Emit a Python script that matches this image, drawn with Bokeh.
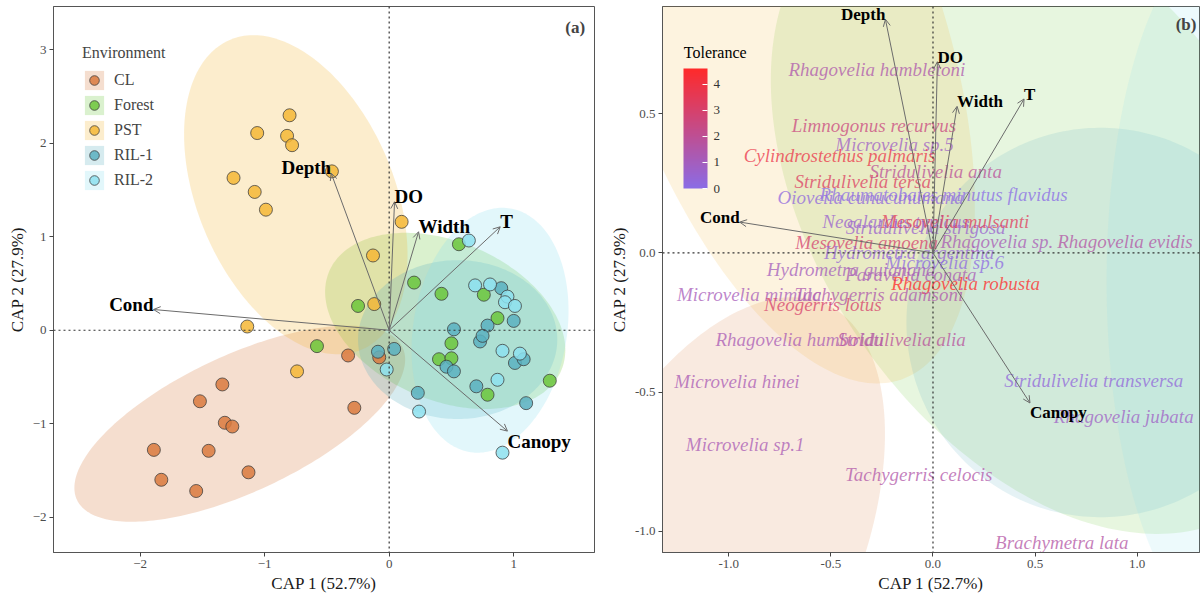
import numpy as np
from bokeh.plotting import figure
from bokeh.layouts import row
from bokeh.models import (ColumnDataSource, Span, Arrow, OpenHead, Label, Legend, LegendItem,
                          LinearColorMapper, ColorBar, FixedTicker, PrintfTickFormatter, Range1d)
from bokeh.transform import linear_cmap
from bokeh.core.properties import value
from bokeh.embed import file_html
from bokeh.resources import INLINE

SERIF = "Liberation Serif"

# ---------------- Panel (a): site scores ----------------
groups = ["CL", "Forest", "PST", "RIL-1", "RIL-2"]
group_colors = ["#D97A3E", "#6CC63B", "#F4B736", "#5BB0BF", "#8DE0EE"]

cl_x = [-1.34, -1.52, -1.32, -1.26, -1.89, -1.45, -1.83, -1.55, -1.13, -0.33, -0.28, -0.08]
cl_y = [-0.58, -0.76, -0.99, -1.03, -1.28, -1.29, -1.60, -1.72, -1.52, -0.27, -0.83, -0.29]
forest_x = [0.56, 0.20, 0.42, 0.76, -0.25, 0.87, -0.58, 0.50, 0.40, 0.50, 0.79, 1.29]
forest_y = [0.92, 0.51, 0.39, 0.38, 0.26, 0.13, -0.17, -0.14, -0.31, -0.30, -0.69, -0.54]
pst_x = [-0.80, -1.06, -0.82, -0.78, -1.25, -1.08, -0.99, -0.46, 0.10, -0.13, -0.12, -1.14, -0.74]
pst_y = [2.30, 2.11, 2.08, 1.98, 1.63, 1.48, 1.29, 1.70, 1.16, 0.80, 0.28, 0.04, -0.44]
ril1_x = [0.90, 0.79, 1.00, 0.52, 0.73, 0.75, 0.04, -0.09, 1.01, 1.08, 0.46, 0.52, 0.70, 0.23, 1.10]
ril1_y = [0.45, 0.05, 0.10, 0.01, -0.12, -0.06, -0.20, -0.23, -0.35, -0.31, -0.39, -0.44, -0.60, -0.67, -0.78]
ril2_x = [0.64, 0.69, 0.81, 0.95, 0.93, 1.01, -0.02, 0.91, 1.05, 0.87, 0.24, 0.91]
ril2_y = [0.96, 0.48, 0.49, 0.36, 0.30, 0.26, -0.42, -0.22, -0.25, -0.53, -0.87, -1.31]

# group ellipses (centre, semi-axes, rotation in degrees), panel a
ell_a_cx = [-1.20, 0.45, -0.75, 0.55, 0.81]
ell_a_cy = [-1.00, 0.10, 1.45, -0.10, 0.00]
ell_a_r1 = [1.55, 1.10, 1.75, 0.85, 1.315]
ell_a_r2 = [0.68, 0.78, 0.81, 0.80, 0.62]
ell_a_ang = [35, -43, 104.4, 90, 84.4]

# group ellipses, panel b
ell_b_cx = [-1.10, 0.55, -0.75, 0.82, 1.45]
ell_b_cy = [-1.10, 0.15, 0.80, -0.25, -0.10]
ell_b_r1 = [1.10, 1.50, 1.40, 0.95, 1.25]
ell_b_r2 = [0.65, 0.95, 0.75, 0.70, 0.60]
ell_b_ang = [50, -35, 120, 0, 90]

# environmental vectors
env_names = ["Depth", "DO", "Width", "T", "Cond", "Canopy"]
env_x = [-0.466, 0.043, 0.236, 0.892, -1.893, 0.950]
env_y = [1.680, 1.375, 1.054, 1.107, 0.222, -1.079]
env_scale_b = 0.5

# ---------------- Panel (b): species scores ----------------
sp_names = ["Rhagovelia hambletoni", "Limnogonus recurvus", "Microvelia sp.5",
            "Cylindrostethus palmaris", "Stridulivelia anta", "Stridulivelia tersa",
            "Rhaumatobates minutus flavidus", "Oiovelia cunucunumana", "Neoalardus typicus",
            "Stridulivelia strigosa", "Mesovelia mulsanti", "Mesovelia amoena",
            "Hydrometra argentina", "Rhagovelia sp.", "Rhagovelia evidis", "Microvelia sp.6",
            "Hydrometra guianana", "Paravelia conata", "Rhagovelia robusta", "Microvelia mimula",
            "Tachygerris adamsoni", "Neogerris lotus", "Rhagovelia humboldti",
            "Stridulivelia alia", "Microvelia hinei", "Microvelia sp.1", "Tachygerris celocis",
            "Stridulivelia transversa", "Rhagovelia jubata", "Brachymetra lata"]
sp_x = [-0.275, -0.289, -0.188, -0.457, 0.013, -0.344, 0.052, -0.305, -0.183, -0.036,
        0.108, -0.325, -0.117, 0.313, 0.940, 0.057, -0.401, -0.109, 0.160, -0.900,
        -0.265, -0.539, -0.653, -0.153, -0.960, -0.920, -0.070, 0.787, 0.934, 0.631]
sp_y = [0.659, 0.458, 0.390, 0.350, 0.293, 0.257, 0.210, 0.199, 0.112, 0.090,
        0.113, 0.037, 0.000, 0.041, 0.041, -0.035, -0.060, -0.078, -0.110, -0.149,
        -0.149, -0.185, -0.310, -0.310, -0.462, -0.689, -0.797, -0.459, -0.589, -1.041]
sp_tol = [1.4, 2.5, 0.8, 3.8, 1.9, 3.2, 0.0, 0.2, 0.6, 0.6,
          3.4, 2.9, 0.4, 1.2, 1.6, 0.1, 1.0, 1.2, 4.6, 1.1,
          1.4, 3.0, 1.2, 1.8, 1.2, 1.2, 1.5, 0.3, 0.8, 1.6]
tol_ticks = [0, 1, 2, 3, 4]


def ellipse_xy(cx, cy, r1, r2, ang_deg, n=240):
    t = np.linspace(0, 2 * np.pi, n)
    th = np.deg2rad(ang_deg)
    x = cx + r1 * np.cos(t) * np.cos(th) - r2 * np.sin(t) * np.sin(th)
    y = cy + r1 * np.cos(t) * np.sin(th) + r2 * np.sin(t) * np.cos(th)
    return x.tolist(), y.tolist()


def style_axes(p):
    p.xgrid.visible = False
    p.ygrid.visible = False
    for ax in (p.xaxis, p.yaxis):
        ax.axis_line_color = "#555555"
        ax.major_tick_line_color = "#444444"
        ax.major_tick_out = 4
        ax.major_tick_in = 0
        ax.minor_tick_line_color = None
        ax.major_label_text_font = SERIF
        ax.major_label_text_font_size = "13px"
        ax.major_label_text_color = "#4d4d4d"
        ax.major_label_standoff = 3
        ax.axis_label_text_font = SERIF
        ax.axis_label_text_font_size = "17px"
        ax.axis_label_text_font_style = "normal"
        ax.axis_label_text_color = "#1a1a1a"
        ax.axis_label_standoff = 3
    p.outline_line_color = "#555555"
    p.outline_line_width = 1
    p.background_fill_color = "white"
    p.border_fill_color = "white"


def add_env(p, xs, ys, font_size):
    src = ColumnDataSource(dict(x0=[0.0] * len(xs), y0=[0.0] * len(ys), x1=xs, y1=ys))
    p.add_layout(Arrow(end=OpenHead(size=7, line_color="#6b6b6b", line_width=1),
                       x_start="x0", y_start="y0", x_end="x1", y_end="y1", source=src,
                       line_color="#6b6b6b", line_width=1))
    for name, vx, vy in zip(env_names, xs, ys):
        p.add_layout(Label(x=vx, y=vy, text=name, text_font=SERIF, text_font_style="bold",
                           text_font_size=font_size, text_color="black",
                           text_align="left" if vx >= 0 else "right",
                           text_baseline="bottom" if vy >= 0 else "top",
                           y_offset=-5 if vy >= 0 else 0))


def add_zero_lines(p):
    for dim in ("width", "height"):
        p.add_layout(Span(location=0, dimension=dim, line_color="#333333",
                          line_dash="2 3", line_width=1.2))


# ---------------- figure a ----------------
pa = figure(width=600, height=597, output_backend="svg", toolbar_location=None,
            x_range=Range1d(-2.696, 1.649), y_range=Range1d(-2.378, 3.464),
            min_border_left=53, min_border_right=6, min_border_top=6, min_border_bottom=45,
            x_axis_label="CAP 1 (52.7%)", y_axis_label="CAP 2 (27.9%)")
style_axes(pa)
pa.xaxis.ticker = FixedTicker(ticks=[-2, -1, 0, 1])
pa.yaxis.ticker = FixedTicker(ticks=[-2, -1, 0, 1, 2, 3])

patch_r = []
for i, g in enumerate(groups):
    ex, ey = ellipse_xy(ell_a_cx[i], ell_a_cy[i], ell_a_r1[i], ell_a_r2[i], ell_a_ang[i])
    patch_r.append(pa.patch(ex, ey, fill_color=group_colors[i], fill_alpha=0.25, line_color=None))

add_zero_lines(pa)

pts = [(cl_x, cl_y), (forest_x, forest_y), (pst_x, pst_y), (ril1_x, ril1_y), (ril2_x, ril2_y)]
pt_r = []
for i, (gx, gy) in enumerate(pts):
    pt_r.append(pa.scatter(gx, gy, size=13, marker="circle", fill_color=group_colors[i],
                           fill_alpha=0.85, line_color="#3a3a3a", line_alpha=0.75, line_width=1))

add_env(pa, env_x, env_y, "19px")

items = [LegendItem(label=g, renderers=[patch_r[i], pt_r[i]]) for i, g in enumerate(groups)]
leg = Legend(items=items, title="Environment", location=(29, 360),
             title_text_font=SERIF, title_text_font_size="16px", title_text_font_style="normal",
             label_text_font=SERIF, label_text_font_size="16px",
             glyph_width=24, glyph_height=24, spacing=1, padding=10, label_standoff=8,
             title_standoff=6, background_fill_alpha=0, border_line_color=None)
pa.add_layout(leg)
pa.add_layout(Label(x=1.574, y=3.344, text="(a)", text_align="right", text_baseline="top",
                    text_font=SERIF, text_font_style="bold", text_font_size="17px"))

# ---------------- figure b ----------------
pb = figure(width=600, height=597, output_backend="svg", toolbar_location=None,
            x_range=Range1d(-1.3245, 1.305), y_range=Range1d(-1.077, 0.886),
            min_border_left=62, min_border_right=1, min_border_top=6, min_border_bottom=45,
            x_axis_label="CAP 1 (52.7%)", y_axis_label="CAP 2 (27.9%)")
style_axes(pb)
pb.xaxis.ticker = FixedTicker(ticks=[-1.0, -0.5, 0.0, 0.5, 1.0])
pb.yaxis.ticker = FixedTicker(ticks=[-1.0, -0.5, 0.0, 0.5])
pb.xaxis.formatter = PrintfTickFormatter(format="%.1f")
pb.yaxis.formatter = PrintfTickFormatter(format="%.1f")

for i, g in enumerate(groups):
    ex, ey = ellipse_xy(ell_b_cx[i], ell_b_cy[i], ell_b_r1[i], ell_b_r2[i], ell_b_ang[i])
    pb.patch(ex, ey, fill_color=group_colors[i], fill_alpha=0.16, line_color=None)

add_zero_lines(pb)

low_c = np.array([0x8B, 0x6C, 0xE6], dtype=float)
high_c = np.array([0xFF, 0x2A, 0x2A], dtype=float)
palette = []
for k in range(256):
    c = low_c + (high_c - low_c) * k / 255.0
    palette.append("#%02x%02x%02x" % tuple(int(round(v)) for v in c))

tol_max = max(sp_tol)
mapper = LinearColorMapper(palette=palette, low=0, high=tol_max)
sp_src = ColumnDataSource(dict(x=sp_x, y=sp_y, name=sp_names, tol=sp_tol))
pb.text(x="x", y="y", text="name", source=sp_src, text_font=value(SERIF),
        text_font_style="italic", text_font_size="19px", text_align="center",
        text_baseline="middle", text_alpha=0.75,
        text_color=linear_cmap("tol", palette, 0, tol_max))

add_env(pb, [v * env_scale_b for v in env_x], [v * env_scale_b for v in env_y], "17px")

cb = ColorBar(color_mapper=mapper, location=(11, 354), width=24, height=120,
              major_label_text_font=SERIF, major_label_text_font_size="13px",
              major_label_text_color="#333333",
              ticker=FixedTicker(ticks=tol_ticks), major_tick_line_color="white",
              major_tick_in=5, major_tick_out=0, minor_tick_line_color=None,
              bar_line_color=None, background_fill_alpha=0, border_line_color=None,
              padding=10, label_standoff=6)
pb.add_layout(cb)
pb.add_layout(Label(x=-1.22, y=0.7205, text="Tolerance", text_align="left", text_baseline="middle",
                    text_font=SERIF, text_font_size="16px", text_color="black"))
pb.add_layout(Label(x=1.29, y=0.857, text="(b)", text_align="right", text_baseline="top",
                    text_font=SERIF, text_font_style="bold", text_font_size="17px"))

layout = row(pa, pb)
open("out.html", "w").write(file_html(layout, INLINE))
